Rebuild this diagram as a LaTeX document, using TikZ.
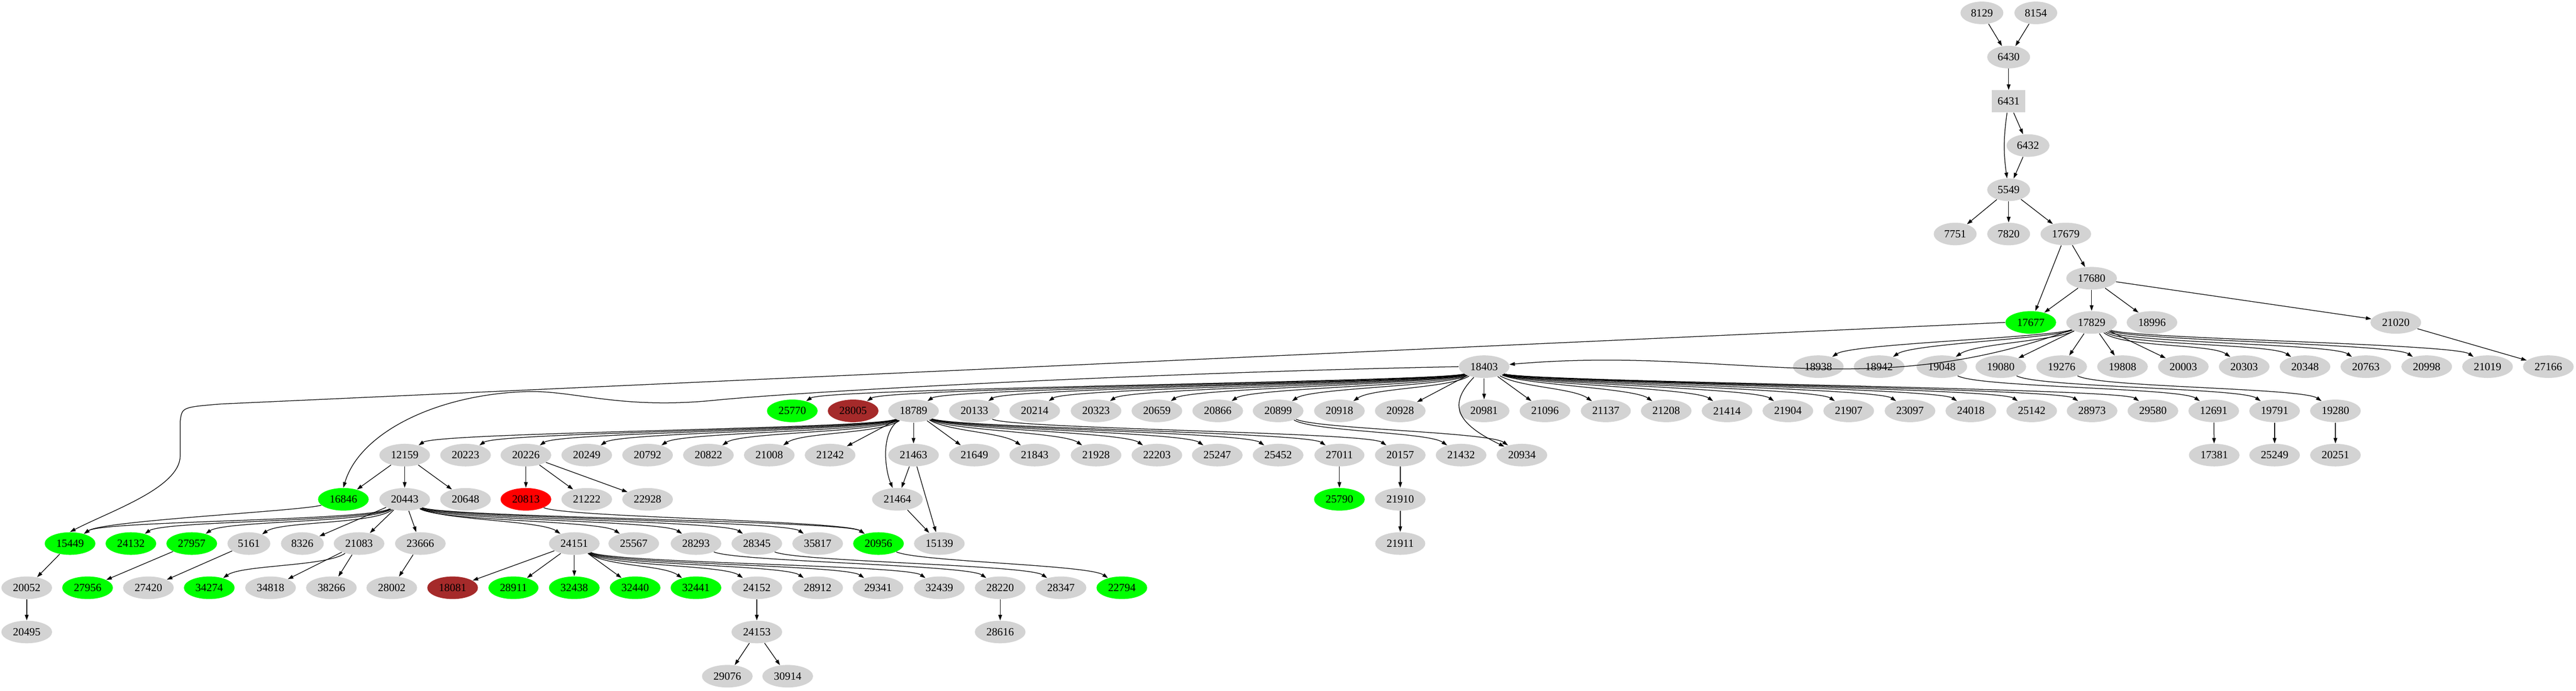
\documentclass[tikz,border=0pt]{standalone}
\usepackage{fontspec}
\setmainfont{Liberation Serif}
\usetikzlibrary{arrows.meta,shapes.geometric}
\definecolor{ndgray}{RGB}{211,211,211}
\definecolor{ndgreen}{RGB}{0,255,0}
\definecolor{ndbrown}{RGB}{165,42,42}
\tikzset{
  nd/.style={ellipse, fill=ndgray, inner xsep=0.09cm, inner ysep=0pt, minimum height=0.49cm,
    minimum width=0.9cm, font=\fontsize{6.8}{7}\selectfont},
  gn/.style={nd, fill=ndgreen},
  rd/.style={nd, fill=red},
  br/.style={nd, fill=ndbrown},
  edge/.style={-{Triangle[length=1.2mm,width=0.8mm]}, thin, black}
}
\begin{document}
\begin{tikzpicture}
			\useasboundingbox (0,0) rectangle (55.89,14.99);
			% top chain
			\node[nd] (n8129) at (43.00,14.71) {8129};
			\node[nd] (n8154) at (44.17,14.71) {8154};
			\node[nd] (n6430) at (43.58,13.75) {6430};
			\node[rectangle, fill=ndgray, minimum width=0.73cm, minimum height=0.48cm, inner sep=0pt,
			  font=\fontsize{6.8}{7}\selectfont] (n6431) at (43.58,12.79) {6431};
			\node[nd] (n6432) at (44.00,11.83) {6432};
			\node[nd] (n5549) at (43.58,10.87) {5549};
			\foreach \n/\x in {7751/42.42,7820/43.58,17679/44.82}
			  \node[nd] (n\n) at (\x,9.91) {\n};
			\node[nd] (n17680) at (45.38,8.95) {17680};
			\node[gn] (n17677) at (44.06,7.99) {17677};
			\foreach \n/\x in {17829/45.38,18996/46.69,21020/51.98}
			  \node[nd] (n\n) at (\x,7.99) {\n};
			% row 8
			\foreach \n/\x in {18403/32.20,18938/39.45,18942/40.77,19048/42.13,19080/43.41,19276/44.73,
			  19808/46.05,20003/47.37,20303/48.69,20348/50.01,20763/51.33,20998/52.65,21019/53.97,27166/55.29}
			  \node[nd] (n\n) at (\x,7.03) {\n};
			% row 9
			\node[gn] (n25770) at (17.19,6.07) {25770};
			\node[br] (n28005) at (18.51,6.07) {28005};
			\foreach \n/\x in {18789/19.82,20133/21.14,20214/22.45,20323/23.78,20659/25.10,20866/26.42,
			  20899/27.73,20918/29.06,20928/30.38,20981/32.20,21096/33.52,21137/34.84,21208/36.15,
			  21414/37.47,21904/38.79,21907/40.11,23097/41.44,24018/42.76,25142/44.08,28973/45.39,
			  29580/46.71,12691/48.03,19791/49.35,19280/50.67}
			  \node[nd] (n\n) at (\x,6.07) {\n};
			% row 10
			\foreach \n/\x in {12159/8.78,20223/10.10,20226/11.41,20249/12.73,20792/14.05,20822/15.37,
			  21008/16.69,21242/18.01,21463/19.82,21649/21.14,21843/22.45,21928/23.78,22203/25.10,
			  25247/26.41,25452/27.73,27011/29.06,20157/30.38,21432/31.70,20934/33.02,
			  17381/48.04,25249/49.35,20251/50.67}
			  \node[nd] (n\n) at (\x,5.11) {\n};
			% row 11
			\node[gn] (n16846) at (7.45,4.15) {16846};
			\node[rd] (n20813) at (11.41,4.15) {20813};
			\node[gn] (n25790) at (29.06,4.15) {25790};
			\foreach \n/\x in {20443/8.78,20648/10.10,21222/12.73,22928/14.05,21464/19.47,21910/30.38}
			  \node[nd] (n\n) at (\x,4.15) {\n};
			% row 12
			\foreach \n/\x in {15449/1.52,24132/2.84,27957/4.16,20956/19.06}
			  \node[gn] (n\n) at (\x,3.19) {\n};
			\foreach \n/\x in {5161/5.40,8326/6.56,21083/7.79,23666/9.12,24151/12.46,25567/13.75,
			  28293/15.10,28345/16.42,35817/17.74,15139/20.38,21911/30.38}
			  \node[nd] (n\n) at (\x,3.19) {\n};
			% row 13
			\foreach \n/\x in {27956/1.90,34274/4.54,28911/11.14,32438/12.46,32440/13.78,32441/15.10,22794/24.34}
			  \node[gn] (n\n) at (\x,2.23) {\n};
			\node[br] (n18081) at (9.82,2.23) {18081};
			\foreach \n/\x in {20052/0.58,27420/3.22,34818/5.87,38266/7.19,28002/8.50,24152/16.42,
			  28912/17.74,29341/19.05,32439/20.38,28220/21.70,28347/23.02}
			  \node[nd] (n\n) at (\x,2.23) {\n};
			% rows 14, 15
			\foreach \n/\x in {20495/0.58,24153/16.42,28616/21.70}
			  \node[nd] (n\n) at (\x,1.27) {\n};
			\foreach \n/\x in {29076/15.78,30914/17.09}
			  \node[nd] (n\n) at (\x,0.31) {\n};
			% straight connectors
			\foreach \a/\b in {8129/6430,8154/6430,6430/6431,6431/6432,6432/5549,5549/7751,5549/7820,
			  5549/17679,17679/17677,17679/17680,17680/17677,17680/17829,17680/18996,17680/21020,
			  21020/27166,12691/17381,19791/25249,19280/20251,21463/21464,21463/15139,21464/15139,
			  27011/25790,20157/21910,21910/21911,24152/24153,24153/29076,24153/30914,28220/28616,
			  20052/20495,15449/20052,12159/20443,12159/16846,12159/20648,20226/20813,20226/21222,
			  20226/22928,18403/20981,18789/21463,18789/21242,18789/21649,20443/8326,20443/21083,
			  20443/23666,21083/34818,21083/38266,23666/28002,24151/28911,24151/32438,24151/32440,
			  24151/18081,17829/19080,17829/19276,17829/19808,17829/20003,18403/20928,18403/21096,
			  27957/27956,5161/27420}
			  \draw[edge] (n\a) -- (n\b);
			\draw[edge] (n6431) to[bend right=8] (n5549);
			\draw[edge] (n17829) to[out=200,in=5] (n18403);
			% curved connectors, out angle per edge
			\foreach \a/\b/\o in {17829/18938/200,17829/18942/202,17829/19048/206,
			  17829/20303/320,17829/20348/325,17829/20763/330,17829/20998/335,17829/21019/338,
			  18403/25770/200,18403/28005/200,18403/18789/201,18403/20133/201,18403/20214/202,
			  18403/20323/203,18403/20659/204,18403/20866/206,18403/20899/208,18403/20918/212,
			  18403/21137/330,18403/21208/335,
			  18403/21414/336,18403/21904/337,18403/21907/338,18403/23097/339,18403/24018/340,
			  18403/25142/340,18403/28973/340,18403/29580/340,
			  18789/12159/205,18789/20223/206,18789/20226/207,18789/20249/208,18789/20792/210,
			  18789/20822/212,18789/21008/215,18789/21843/330,
			  18789/21928/332,18789/22203/334,18789/25247/335,18789/25452/336,18789/27011/337,
			  20133/20157/335,20899/21432/330,20899/20934/335,
			  19048/12691/330,19080/19791/330,19276/19280/330,
			  20443/15449/212,20443/24132/214,20443/27957/216,20443/5161/220,
			  20443/24151/330,20443/25567/328,20443/28293/330,
			  20443/28345/332,20443/35817/334,20443/20956/335,16846/15449/195,20813/20956/335,
			  21083/34274/215,
			  24151/32441/325,24151/24152/326,24151/28912/328,24151/29341/330,24151/32439/332,
			  28293/28220/335,28345/28347/335,20956/22794/335}
			  {\pgfmathsetmacro\ii{\o>270 ? 145 : 35}
			  \draw[edge] (n\a) to[out=\o,in=\ii,out distance=0.5cm,in distance=0.5cm] (n\b);}
			% long connectors
			\draw[edge] (n17677.west) -- (4.8,6.22) .. controls (3.95,6.15) .. (3.91,5.85) -- (3.91,5.1)
			  .. controls (3.91,4.4) and (2.4,3.9) .. (n15449.north);
			\draw[edge] (n18403.west) .. controls (25,6.9) and (17.5,6.5) .. (15.5,6.3)
			  .. controls (13.5,6.1) and (12.5,6.5) .. (11.5,6.49)
			  .. controls (9.5,6.45) and (7.8,5.6) .. (n16846.north);
			\draw[edge] (n18403) .. controls (31.4,6.2) and (31.6,5.8) .. (n20934);
			\draw[edge] (n18789) .. controls (19.1,5.6) and (19.2,4.8) .. (n21464);
\end{tikzpicture}
\end{document}
